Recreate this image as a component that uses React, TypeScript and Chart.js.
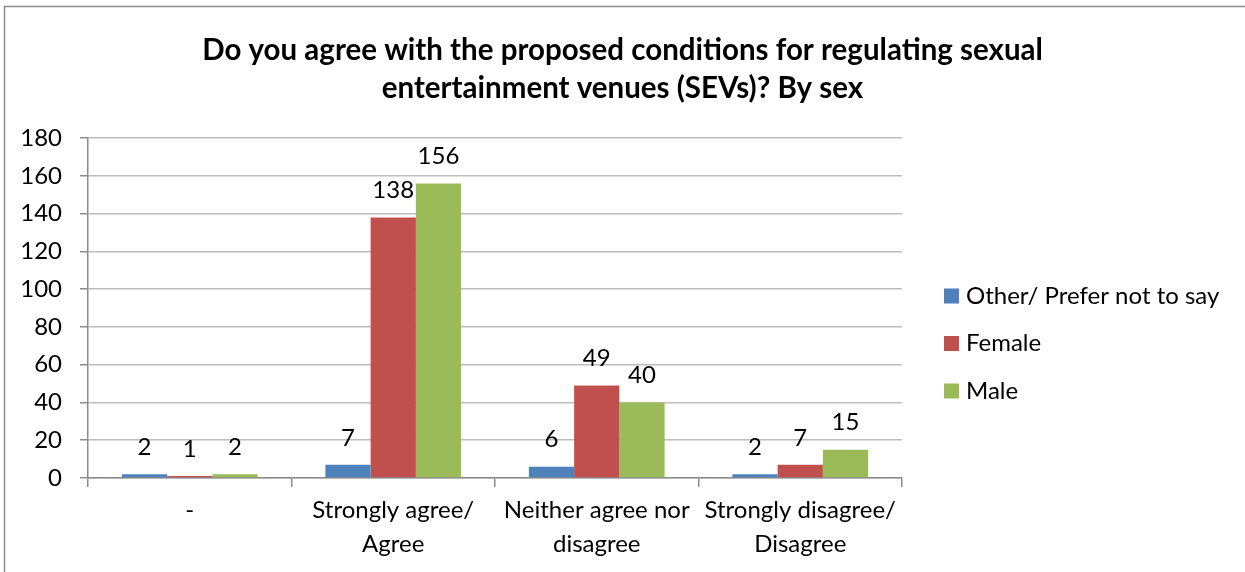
import React, { useEffect, useRef } from "react";
import { Chart, registerables, layouts } from "chart.js";

Chart.register(...registerables);

const TITLE_LINES = [
  "Do you agree with the proposed conditions for regulating sexual",
  "entertainment venues (SEVs)? By sex",
];
const CATEGORIES: (string | string[])[] = [
  "-",
  ["Strongly agree/", "Agree"],
  ["Neither agree nor", "disagree"],
  ["Strongly disagree/", "Disagree"],
];
const SERIES_NAMES = ["Other/ Prefer not to say", "Female", "Male"];
const OTHER_VALUES = [2, 7, 6, 2];
const FEMALE_VALUES = [1, 138, 49, 7];
const MALE_VALUES = [2, 156, 40, 15];
const SERIES_COLORS = ["#4F81BD", "#C0504D", "#9BBB59"];
const Y_MIN = 0;
const Y_MAX = 180;
const Y_STEP = 20;

const FONT = "Lato, 'Open Sans', sans-serif";
const AXIS = "#8c8c8c";
const GRID = "#bdbdbd";
const LEGEND_AREA_WIDTH = 343;

const bgBorderPlugin = {
  id: "bgBorder",
  beforeDraw(chart: any) {
    const ctx = chart.ctx;
    ctx.save();
    ctx.fillStyle = "#ffffff";
    ctx.fillRect(0, 0, chart.width, chart.height);
    ctx.strokeStyle = "#8c8c8c";
    ctx.lineWidth = 1.5;
    ctx.strokeRect(4.5, 6.5, chart.width + 20, chart.height + 20);
    ctx.restore();
  },
};

// Reserves space on the right for the legend without shrinking the title box.
const rightSpacerPlugin = {
  id: "rightSpacer",
  beforeInit(chart: any) {
    const box: any = {
      position: "right",
      weight: 100,
      fullSize: false,
      options: {},
      width: 0,
      height: 0,
      top: 0,
      left: 0,
      right: 0,
      bottom: 0,
      update(maxWidth: number, maxHeight: number) {
        box.width = LEGEND_AREA_WIDTH;
        box.height = maxHeight;
      },
      isHorizontal() {
        return false;
      },
      getPadding() {
        return { left: 0, top: 0, right: 0, bottom: 0 };
      },
      draw() {},
    };
    layouts.addBox(chart, box);
  },
};

const valueLabelPlugin = {
  id: "valueLabels",
  afterDatasetsDraw(chart: any) {
    const ctx = chart.ctx;
    ctx.save();
    ctx.font = `24px ${FONT}`;
    ctx.fillStyle = "#000000";
    ctx.textAlign = "center";
    ctx.textBaseline = "middle";
    chart.data.datasets.forEach((ds: any, di: number) => {
      const meta = chart.getDatasetMeta(di);
      meta.data.forEach((bar: any, i: number) => {
        ctx.fillText(String(ds.data[i]), bar.x, bar.y - 27);
      });
    });
    ctx.restore();
  },
};

const customLegendPlugin = {
  id: "customLegend",
  afterDraw(chart: any) {
    const ctx = chart.ctx;
    ctx.save();
    ctx.font = `24px ${FONT}`;
    ctx.textAlign = "left";
    ctx.textBaseline = "middle";
    const x = chart.chartArea.right + 42;
    const y0 = 296;
    const gap = 47.5;
    chart.data.datasets.forEach((ds: any, i: number) => {
      const y = y0 + i * gap;
      ctx.fillStyle = ds.backgroundColor;
      ctx.fillRect(x, y - 7.5, 15, 15);
      ctx.fillStyle = "#000000";
      ctx.fillText(ds.label, x + 22, y);
    });
    ctx.restore();
  },
};

export default function App() {
  const canvasRef = useRef<HTMLCanvasElement | null>(null);

  useEffect(() => {
    if (!canvasRef.current) return;
    const chart = new Chart(canvasRef.current, {
      type: "bar",
      data: {
        labels: CATEGORIES,
        datasets: [
          { label: SERIES_NAMES[0], data: OTHER_VALUES, backgroundColor: SERIES_COLORS[0] },
          { label: SERIES_NAMES[1], data: FEMALE_VALUES, backgroundColor: SERIES_COLORS[1] },
          { label: SERIES_NAMES[2], data: MALE_VALUES, backgroundColor: SERIES_COLORS[2] },
        ],
      },
      options: {
        responsive: false,
        animation: false,
        layout: { padding: { left: 0, right: 0, top: 0, bottom: 0 } },
        datasets: {
          bar: { categoryPercentage: 0.667, barPercentage: 1.0 },
        },
        plugins: {
          legend: { display: false },
          tooltip: { enabled: false },
          title: {
            display: true,
            text: TITLE_LINES,
            color: "#000000",
            font: { family: FONT, size: 29.5, weight: "bold", lineHeight: 1.29 },
            padding: { top: 31, bottom: 31 },
          },
        },
        scales: {
          x: {
            grid: {
              display: true,
              drawOnChartArea: false,
              drawTicks: true,
              offset: true,
              tickLength: 9,
              color: AXIS,
              lineWidth: 1.5,
            },
            border: { display: true, color: AXIS, width: 1.5 },
            ticks: {
              color: "#000000",
              font: { family: FONT, size: 24, lineHeight: 1.42 },
              padding: 6,
              maxRotation: 0,
              autoSkip: false,
            },
            afterFit(scale: any) {
              scale.height = 94;
            },
          },
          y: {
            min: Y_MIN,
            max: Y_MAX,
            ticks: {
              stepSize: Y_STEP,
              color: "#000000",
              font: { family: FONT, size: 24 },
              padding: 18,
            },
            grid: {
              color: GRID,
              tickColor: AXIS,
              lineWidth: 1.5,
              tickLength: 8,
              drawTicks: true,
            },
            border: { display: true, color: AXIS, width: 1.5 },
            afterFit(scale: any) {
              scale.width = 88;
            },
          },
        },
      },
      plugins: [bgBorderPlugin, rightSpacerPlugin, valueLabelPlugin, customLegendPlugin],
    } as any);
    return () => chart.destroy();
  }, []);

  return (
    <div style={{ position: "absolute", left: 0, top: 0, width: 1245, height: 572 }}>
      <canvas ref={canvasRef} width={1245} height={572} />
    </div>
  );
}
